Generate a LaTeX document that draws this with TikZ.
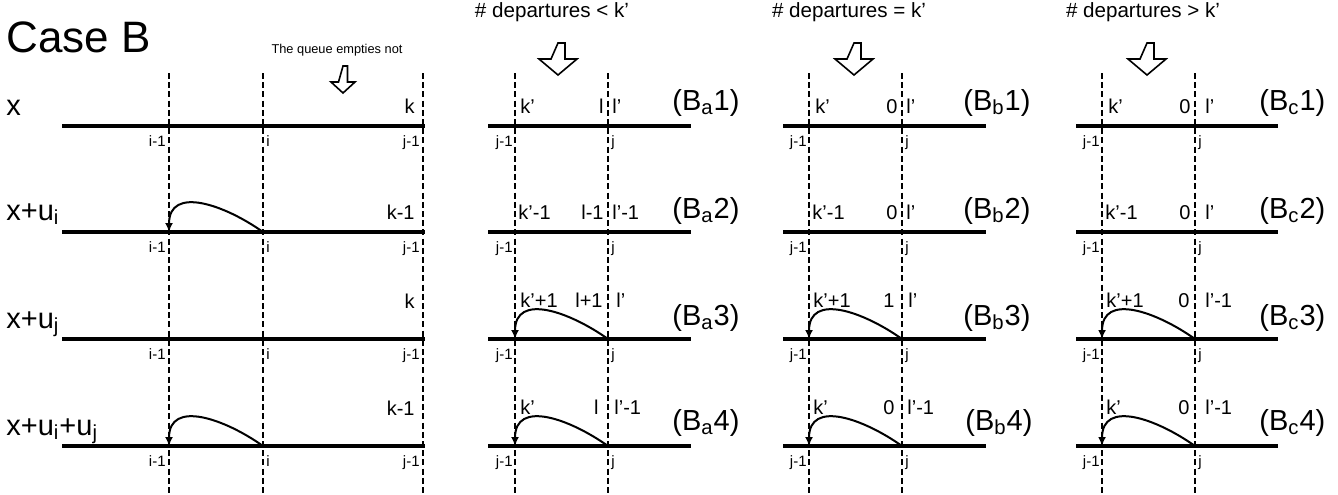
\documentclass[tikz,border=0pt]{standalone}
\usepackage{fontspec}
\setmainfont{Liberation Sans}
\usetikzlibrary{arrows.meta}
\tikzset{
  axis/.style={
    line width=2pt
  },
  cut/.style={
    line width=0.7pt,
    dash pattern=on 3pt off 1.6pt
  },
  jump/.style={
    line width=1pt,
    -{Latex[length=4.5pt,width=4pt]}
  },
  hollow/.style={
    line width=0.8pt,
    fill=white
  },
  rowlab/.style={
    anchor=base west,
    font=\fontsize{14.5}{16}\selectfont,
    inner sep=0pt
  },
  numL/.style={
    anchor=base west,
    font=\fontsize{10}{12}\selectfont,
    inner sep=0pt
  },
  numR/.style={
    anchor=base east,
    font=\fontsize{10}{12}\selectfont,
    inner sep=0pt
  },
  posL/.style={
    anchor=base west,
    font=\fontsize{7.5}{9}\selectfont,
    inner sep=0pt
  },
  posR/.style={
    anchor=base east,
    font=\fontsize{7.5}{9}\selectfont,
    inner sep=0pt
  },
  head/.style={
    anchor=base,
    font=\fontsize{10.3}{12}\selectfont,
    inner sep=0pt
  }
}

\begin{document}
\begin{tikzpicture}[x=0.5pt,y=-0.5pt]
                \useasboundingbox (0,0) rectangle (1338,494);

                % titles
                \node[anchor=base west, inner sep=0pt, font=\fontsize{22}{24}\selectfont] (title) at (6,52) {Case B};
                \node[head, font=\fontsize{6.4}{8}\selectfont] (qnote) at (337,53) {The queue empties not};
                \node[head] (hda) at (552,17) {\# departures < k'};
                \node[head] (hdb) at (849,17) {\# departures = k'};
                \node[head] (hdc) at (1143,17) {\# departures > k'};

                \draw[hollow] (343,66) --++ (4.5,0) --++ (0,16) --++ (7.5,0) --++ (-12,11) --++ (-12,-11) --++ (7.5,0) -- cycle;
                \draw[hollow] (558,43) --++ (7,0) --++ (0,16) --++ (12,0) --++ (-19,16) --++ (-19,-16) --++ (12,0) -- cycle;
                \draw[hollow] (854,43) --++ (7,0) --++ (0,16) --++ (12,0) --++ (-19,16) --++ (-19,-16) --++ (12,0) -- cycle;
                \draw[hollow] (1147,43) --++ (7,0) --++ (0,16) --++ (12,0) --++ (-19,16) --++ (-19,-16) --++ (12,0) -- cycle;

                % dashed cuts
                \draw[cut] (169,73) --++ (0,421);
                \draw[cut] (263,73) --++ (0,421);
                \draw[cut] (423,73) --++ (0,421);
                \draw[cut] (515,73) --++ (0,421);
                \draw[cut] (608,73) --++ (0,421);
                \draw[cut] (809,73) --++ (0,421);
                \draw[cut] (902,73) --++ (0,421);
                \draw[cut] (1102,73) --++ (0,421);
                \draw[cut] (1195,73) --++ (0,421);

                % queue lines
                \draw[axis] (62,126) --++ (363,0);
                \draw[axis] (62,232) --++ (363,0);
                \draw[axis] (62,339) --++ (363,0);
                \draw[axis] (62,446) --++ (363,0);
                \draw[axis] (488,126) --++ (203,0);
                \draw[axis] (488,232) --++ (203,0);
                \draw[axis] (488,339) --++ (203,0);
                \draw[axis] (488,446) --++ (203,0);
                \draw[axis] (783,126) --++ (203,0);
                \draw[axis] (783,232) --++ (203,0);
                \draw[axis] (783,339) --++ (203,0);
                \draw[axis] (783,446) --++ (203,0);
                \draw[axis] (1076,126) --++ (202,0);
                \draw[axis] (1076,232) --++ (202,0);
                \draw[axis] (1076,339) --++ (202,0);
                \draw[axis] (1076,446) --++ (202,0);

                % jumps
                \coordinate (sA2) at (263,232);
                \coordinate (eA2) at (169,232);
                \coordinate (sA4) at (263,446);
                \coordinate (eA4) at (169,446);
                \coordinate (sa3) at (608,339);
                \coordinate (ea3) at (515,339);
                \coordinate (sa4) at (608,446);
                \coordinate (ea4) at (515,446);
                \coordinate (sb3) at (902,339);
                \coordinate (eb3) at (809,339);
                \coordinate (sb4) at (902,446);
                \coordinate (eb4) at (809,446);
                \coordinate (sc3) at (1195,339);
                \coordinate (ec3) at (1102,339);
                \coordinate (sc4) at (1195,446);
                \coordinate (ec4) at (1102,446);
                \draw[jump] (sA2) .. controls +(-38,-27) and +(0,-47) .. (eA2);
                \draw[jump] (sA4) .. controls +(-38,-27) and +(0,-47) .. (eA4);
                \draw[jump] (sa3) .. controls +(-38,-27) and +(0,-47) .. (ea3);
                \draw[jump] (sa4) .. controls +(-38,-27) and +(0,-47) .. (ea4);
                \draw[jump] (sb3) .. controls +(-38,-27) and +(0,-47) .. (eb3);
                \draw[jump] (sb4) .. controls +(-38,-27) and +(0,-47) .. (eb4);
                \draw[jump] (sc3) .. controls +(-38,-27) and +(0,-47) .. (ec3);
                \draw[jump] (sc4) .. controls +(-38,-27) and +(0,-47) .. (ec4);

                % left panel
                \node[rowlab] (rx1) at (6,115) {x};
                \node[rowlab] (rx2) at (6,220) {x+u\textsubscript{i}};
                \node[rowlab] (rx3) at (6,328) {x+u\textsubscript{j}};
                \node[rowlab] (rx4) at (6,435) {x+u\textsubscript{i}+u\textsubscript{j}};
                \node[numR] (kA1) at (415,113) {k};
                \node[numR] (kA2) at (415,219) {k-1};
                \node[numR] (kA3) at (415,308) {k};
                \node[numR] (kA4) at (415,415) {k-1};
                \node[posR] (pA1) at (166,146) {i-1};
                \node[posL] (qA1) at (266,146) {i};
                \node[posR] (tA1) at (420,146) {j-1};
                \node[posR] (pA2) at (166,252) {i-1};
                \node[posL] (qA2) at (266,252) {i};
                \node[posR] (tA2) at (420,252) {j-1};
                \node[posR] (pA3) at (166,359) {i-1};
                \node[posL] (qA3) at (266,359) {i};
                \node[posR] (tA3) at (420,359) {j-1};
                \node[posR] (pA4) at (166,466) {i-1};
                \node[posL] (qA4) at (266,466) {i};
                \node[posR] (tA4) at (420,466) {j-1};

                % panel a
                \node[numL] (ka1) at (520,113) {k'};
                \node[numR] (la1) at (604,113) {l};
                \node[numL] (ma1) at (612,113) {l'};
                \node[rowlab] (Ba1) at (672,110) {(B\textsubscript{a}1)};
                \node[numL] (ka2) at (518,219) {k'-1};
                \node[numR] (la2) at (604,219) {l-1};
                \node[numL] (ma2) at (612,219) {l'-1};
                \node[rowlab] (Ba2) at (672,218) {(B\textsubscript{a}2)};
                \node[numL] (ka3) at (520,307) {k'+1};
                \node[numR] (la3) at (603,307) {l+1};
                \node[numL] (ma3) at (616,307) {l'};
                \node[rowlab] (Ba3) at (672,325) {(B\textsubscript{a}3)};
                \node[numL] (ka4) at (520,414) {k'};
                \node[numR] (la4) at (599,414) {l};
                \node[numL] (ma4) at (614,414) {l'-1};
                \node[rowlab] (Ba4) at (672,430) {(B\textsubscript{a}4)};
                \node[posR] (pa1) at (513,146) {j-1};
                \node[posL] (qa1) at (611,146) {j};
                \node[posR] (pa2) at (513,252) {j-1};
                \node[posL] (qa2) at (611,252) {j};
                \node[posR] (pa3) at (513,359) {j-1};
                \node[posL] (qa3) at (611,359) {j};
                \node[posR] (pa4) at (513,466) {j-1};
                \node[posL] (qa4) at (611,466) {j};

                % panel b
                \node[numL] (kb1) at (815,113) {k'};
                \node[numR] (lb1) at (898,113) {0};
                \node[numL] (mb1) at (906,113) {l'};
                \node[rowlab] (Bb1) at (963,110) {(B\textsubscript{b}1)};
                \node[numL] (kb2) at (812,219) {k'-1};
                \node[numR] (lb2) at (898,219) {0};
                \node[numL] (mb2) at (906,219) {l'};
                \node[rowlab] (Bb2) at (963,218) {(B\textsubscript{b}2)};
                \node[numL] (kb3) at (813,307) {k'+1};
                \node[numR] (lb3) at (895,307) {1};
                \node[numL] (mb3) at (908,307) {l'};
                \node[rowlab] (Bb3) at (963,325) {(B\textsubscript{b}3)};
                \node[numL] (kb4) at (813,414) {k'};
                \node[numR] (lb4) at (895,414) {0};
                \node[numL] (mb4) at (907,414) {l'-1};
                \node[rowlab] (Bb4) at (965,430) {(B\textsubscript{b}4)};
                \node[posR] (pb1) at (807,146) {j-1};
                \node[posL] (qb1) at (905,146) {j};
                \node[posR] (pb2) at (807,252) {j-1};
                \node[posL] (qb2) at (905,252) {j};
                \node[posR] (pb3) at (807,359) {j-1};
                \node[posL] (qb3) at (905,359) {j};
                \node[posR] (pb4) at (807,466) {j-1};
                \node[posL] (qb4) at (905,466) {j};

                % panel c
                \node[numL] (kc1) at (1108,113) {k'};
                \node[numR] (lc1) at (1191,113) {0};
                \node[numL] (mc1) at (1205,113) {l'};
                \node[rowlab] (Bc1) at (1259,110) {(B\textsubscript{c}1)};
                \node[numL] (kc2) at (1105,219) {k'-1};
                \node[numR] (lc2) at (1191,219) {0};
                \node[numL] (mc2) at (1205,219) {l'};
                \node[rowlab] (Bc2) at (1259,218) {(B\textsubscript{c}2)};
                \node[numL] (kc3) at (1106,307) {k'+1};
                \node[numR] (lc3) at (1190,307) {0};
                \node[numL] (mc3) at (1205,307) {l'-1};
                \node[rowlab] (Bc3) at (1259,325) {(B\textsubscript{c}3)};
                \node[numL] (kc4) at (1106,414) {k'};
                \node[numR] (lc4) at (1190,414) {0};
                \node[numL] (mc4) at (1205,414) {l'-1};
                \node[rowlab] (Bc4) at (1259,430) {(B\textsubscript{c}4)};
                \node[posR] (pc1) at (1100,146) {j-1};
                \node[posL] (qc1) at (1198,146) {j};
                \node[posR] (pc2) at (1100,252) {j-1};
                \node[posL] (qc2) at (1198,252) {j};
                \node[posR] (pc3) at (1100,359) {j-1};
                \node[posL] (qc3) at (1198,359) {j};
                \node[posR] (pc4) at (1100,466) {j-1};
                \node[posL] (qc4) at (1198,466) {j};
\end{tikzpicture}
\end{document}
